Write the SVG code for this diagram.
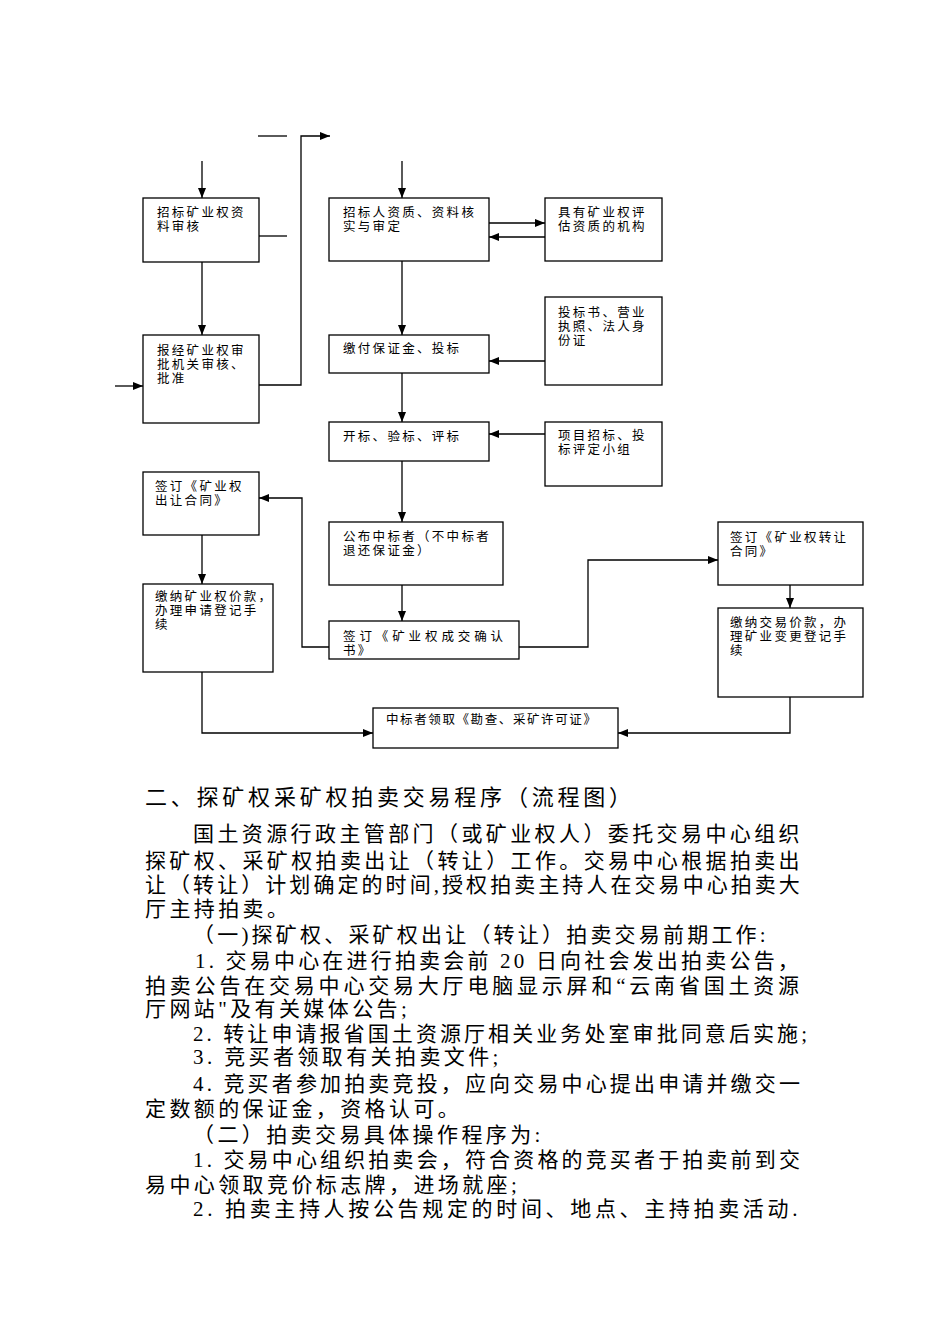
<svg xmlns="http://www.w3.org/2000/svg" width="950" height="1344" viewBox="0 0 950 1344">
<style>
.box{fill:#fff;stroke:#000;stroke-width:1.3}
.bt{font-family:"Liberation Serif","Noto Sans CJK SC",sans-serif;font-size:12.5px;letter-spacing:2.3px;fill:#000}
.c{fill:none;stroke:#000;stroke-width:1.3}
.ca{fill:none;stroke:#000;stroke-width:1.3;marker-end:url(#ah)}
.h{font-family:"Noto Sans CJK SC",sans-serif;font-size:22px;fill:#000}
.p{font-family:"Liberation Serif","Noto Sans CJK SC",serif;font-size:21px;fill:#000;letter-spacing:3.4px}
</style>
<defs>
<marker id="ah" markerUnits="userSpaceOnUse" markerWidth="10" markerHeight="8" refX="10" refY="4" orient="auto">
<path d="M0,0 L10,4 L0,8 z" fill="#000"/>
</marker>
</defs>
<rect width="950" height="1344" fill="#fff"/>
<g id="connectors">
<path class="c" d="M258 136 H287"/>
<path class="c" d="M259 236 H287"/>
<path class="ca" d="M202 161 V198"/>
<path class="ca" d="M202 262 V335"/>
<path class="ca" d="M115 386 H143"/>
<path class="ca" d="M259 385 H301 V136 H330"/>
<path class="ca" d="M402 161 V198"/>
<path class="ca" d="M489 223 H545"/>
<path class="ca" d="M545 237 H489"/>
<path class="ca" d="M402 261 V335"/>
<path class="ca" d="M545 361 H489"/>
<path class="ca" d="M402 373 V422"/>
<path class="ca" d="M545 434 H489"/>
<path class="ca" d="M402 461 V522"/>
<path class="ca" d="M402 585 V621"/>
<path class="ca" d="M329 647 H302 V498 H259"/>
<path class="ca" d="M519 647 H588 V560 H718"/>
<path class="ca" d="M202 535 V584"/>
<path class="ca" d="M202 672 V733 H373"/>
<path class="ca" d="M790 585 V608"/>
<path class="ca" d="M790 697 V733 H618"/>
</g>
<g id="n1"><rect class="box" x="143" y="198" width="116" height="64"/>
<text class="bt"><tspan x="157" y="217">招标矿业权资</tspan><tspan x="157" y="231">料审核</tspan></text></g>
<g id="n2"><rect class="box" x="143" y="335" width="116" height="88"/>
<text class="bt"><tspan x="157" y="355">报经矿业权审</tspan><tspan x="157" y="369">批机关审核、</tspan><tspan x="157" y="383">批准</tspan></text></g>
<g id="n3"><rect class="box" x="329" y="198" width="160" height="63"/>
<text class="bt"><tspan x="343" y="217">招标人资质、资料核</tspan><tspan x="343" y="231">实与审定</tspan></text></g>
<g id="n4"><rect class="box" x="545" y="198" width="117" height="63"/>
<text class="bt"><tspan x="558" y="217">具有矿业权评</tspan><tspan x="558" y="231">估资质的机构</tspan></text></g>
<g id="n5"><rect class="box" x="329" y="335" width="160" height="38"/>
<text class="bt" x="343" y="353">缴付保证金、投标</text></g>
<g id="n6"><rect class="box" x="545" y="297" width="117" height="88"/>
<text class="bt"><tspan x="558" y="317">投标书、营业</tspan><tspan x="558" y="331">执照、法人身</tspan><tspan x="558" y="345">份证</tspan></text></g>
<g id="n7"><rect class="box" x="329" y="422" width="160" height="39"/>
<text class="bt" x="343" y="441">开标、验标、评标</text></g>
<g id="n8"><rect class="box" x="545" y="422" width="117" height="64"/>
<text class="bt"><tspan x="558" y="440">项目招标、投</tspan><tspan x="558" y="454">标评定小组</tspan></text></g>
<g id="n9"><rect class="box" x="329" y="522" width="174" height="63"/>
<text class="bt"><tspan x="343" y="541">公布中标者（不中标者</tspan><tspan x="343" y="555">退还保证金）</tspan></text></g>
<g id="n10"><rect class="box" x="329" y="621" width="190" height="38"/>
<text class="bt"><tspan x="343" y="641" style="letter-spacing:3.9px">签订《矿业权成交确认</tspan><tspan x="343" y="655">书》</tspan></text></g>
<g id="n11"><rect class="box" x="718" y="522" width="145" height="63"/>
<text class="bt"><tspan x="730" y="542">签订《矿业权转让</tspan><tspan x="730" y="556">合同》</tspan></text></g>
<g id="n12"><rect class="box" x="143" y="472" width="116" height="63"/>
<text class="bt"><tspan x="155" y="491">签订《矿业权</tspan><tspan x="155" y="505">出让合同》</tspan></text></g>
<g id="n13"><rect class="box" x="143" y="584" width="130" height="88"/>
<text class="bt"><tspan x="155" y="601">缴纳矿业权价款，</tspan><tspan x="155" y="615">办理申请登记手</tspan><tspan x="155" y="629">续</tspan></text></g>
<g id="n14"><rect class="box" x="373" y="708" width="245" height="40"/>
<text class="bt" x="386" y="724" style="letter-spacing:1.6px">中标者领取《勘查、采矿许可证》</text></g>
<g id="n15"><rect class="box" x="718" y="608" width="145" height="89"/>
<text class="bt"><tspan x="730" y="627">缴纳交易价款，办</tspan><tspan x="730" y="641">理矿业变更登记手</tspan><tspan x="730" y="655">续</tspan></text></g>
<g id="body">
<text class="h" x="145" y="805" textLength="486" lengthAdjust="spacing">二、探矿权采矿权拍卖交易程序（流程图）</text>
<text class="p">
<tspan x="193" y="841">国土资源行政主管部门（或矿业权人）委托交易中心组织</tspan>
<tspan x="145" y="868" style="letter-spacing:3.37px">探矿权、采矿权拍卖出让（转让）工作。交易中心根据拍卖出</tspan>
<tspan x="145" y="892" style="letter-spacing:3.06px">让（转让）计划确定的时间,授权拍卖主持人在交易中心拍卖大</tspan>
<tspan x="145" y="916">厅主持拍卖。</tspan>
<tspan x="193" y="942" style="letter-spacing:3.2px">（一)探矿权、采矿权出让（转让）拍卖交易前期工作:</tspan>
<tspan x="195" y="968" style="letter-spacing:3.19px">1. 交易中心在进行拍卖会前 20 日向社会发出拍卖公告，</tspan>
<tspan x="145" y="993" style="letter-spacing:3.8px">拍卖公告在交易中心交易大厅电脑显示屏和“云南省国土资源</tspan>
<tspan x="145" y="1016">厅网站"及有关媒体公告;</tspan>
<tspan x="193" y="1041" style="letter-spacing:3.08px">2. 转让申请报省国土资源厅相关业务处室审批同意后实施;</tspan>
<tspan x="193" y="1064">3. 竞买者领取有关拍卖文件;</tspan>
<tspan x="193" y="1091" style="letter-spacing:3.15px">4. 竞买者参加拍卖竞投，应向交易中心提出申请并缴交一</tspan>
<tspan x="145" y="1116">定数额的保证金，资格认可。</tspan>
<tspan x="193" y="1142">（二）拍卖交易具体操作程序为:</tspan>
<tspan x="193" y="1167" style="letter-spacing:3.15px">1. 交易中心组织拍卖会，符合资格的竞买者于拍卖前到交</tspan>
<tspan x="145" y="1192">易中心领取竞价标志牌，进场就座;</tspan>
<tspan x="193" y="1216" style="letter-spacing:3.66px">2. 拍卖主持人按公告规定的时间、地点、主持拍卖活动.</tspan>
</text>
</g>
</svg>
